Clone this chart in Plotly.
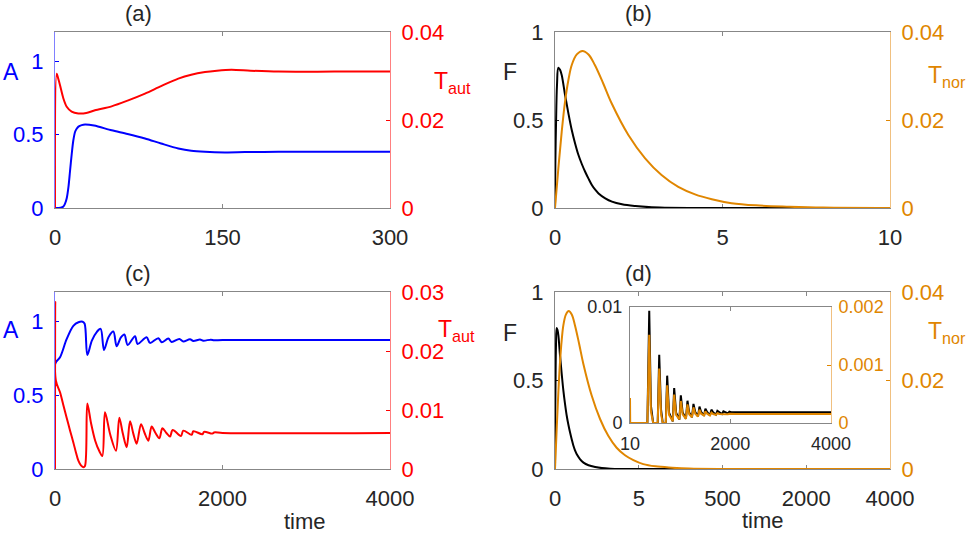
#!/usr/bin/env python3
"""Four-panel time courses: A/T_aut (a, c) and F/T_nor (b, d) with an inset in (d)."""
import plotly.graph_objects as go

W, H = 972, 533
FONT = "Liberation Sans, Arial, sans-serif"
BLUE, RED, BLACK, ORANGE = "#0000ff", "#ff0000", "#000000", "#e08600"
GRAY = "#878787"
TXT = "#262626"

# ---- (a) short run, time 0..300 ----
ta_A = [0, 5, 7.5, 9, 10.5, 12, 13.4, 15, 16.4, 18, 19.4, 21, 23.9, 26.9, 35, 50.7, 65,
        80.6, 95, 110.4, 122, 134.3, 152.2, 170, 200, 250, 300]
A_a = [0, 0.002, 0.01, 0.03, 0.066, 0.14, 0.247, 0.37, 0.46, 0.52, 0.54, 0.555, 0.565, 0.569,
       0.562, 0.53, 0.505, 0.474, 0.44, 0.406, 0.39, 0.383, 0.379, 0.381, 0.383, 0.383, 0.383]
ta_T = [0, 1.5, 3, 4.5, 7.5, 10.5, 14.9, 20.9, 28, 35.8, 50.7, 65, 80.6, 95, 110.4, 122,
        134.3, 145, 158, 175, 200, 250, 300]
Taut_a = [0, 0.0305, 0.0293, 0.0279, 0.0249, 0.0230, 0.0219, 0.0215, 0.0216, 0.0222, 0.0231,
          0.0244, 0.0260, 0.0277, 0.0294, 0.0303, 0.0309, 0.0312, 0.0314, 0.0312, 0.0310,
          0.0310, 0.0310]

# ---- (b) time 0..10 ----
tb_F = [0, 0.01, 0.03, 0.06, 0.1, 0.15, 0.2, 0.3, 0.4, 0.5, 0.6, 0.7, 0.8, 0.9, 1.0, 1.1,
        1.2, 1.3, 1.5, 1.7, 2.0, 2.4, 2.8, 3.3, 4, 5, 10]
F_b = [0, 0.25, 0.47, 0.7, 0.797, 0.785, 0.756, 0.642, 0.538, 0.443, 0.367, 0.301, 0.250,
       0.206, 0.167, 0.131, 0.104, 0.083, 0.055, 0.036, 0.021, 0.011, 0.005, 0.002, 0.0005,
       0, 0]
tb_T = [0, 0.1, 0.2, 0.3, 0.4, 0.5, 0.65, 0.82, 1.0, 1.19, 1.44, 1.69, 2.19, 2.69, 3.18, 3.68,
        4.18, 4.68, 5.27, 6, 7, 8, 10]
Tnor_b = [0, 0.009, 0.0173, 0.0242, 0.0291, 0.0325, 0.0349, 0.0357, 0.0349, 0.0325, 0.0283,
          0.0238, 0.0166, 0.0113, 0.0075, 0.0048, 0.0031, 0.0020, 0.0011, 0.0006, 0.0003,
          0.0001, 0]

# ---- (c) long run, time 0..4000 ----
tc_A = [0, 3, 60, 139, 219, 280, 330, 354, 386, 440, 500, 545, 585, 640, 697, 736, 785, 828,
        868, 955, 987, 1094, 1134, 1234, 1274, 1353, 1393, 1485, 1532, 1612, 1652, 1731, 1771,
        1860, 1900, 2000, 4000]
A_c = [0, 0.714, 0.757, 0.88, 0.97, 0.995, 0.998, 0.985, 0.773, 0.87, 0.93, 0.950, 0.807,
       0.895, 0.932, 0.832, 0.89, 0.912, 0.841, 0.900, 0.848, 0.893, 0.855, 0.887, 0.859,
       0.884, 0.861, 0.882, 0.865, 0.880, 0.868, 0.878, 0.870, 0.877, 0.873, 0.875, 0.875]
tc_T = [0, 3, 10, 60, 100, 139, 180, 219, 250, 279, 310, 338, 358, 386, 430, 480, 530, 565,
        597, 660, 728, 768, 810, 856, 896, 935, 975, 1027, 1070, 1114, 1154, 1200, 1246, 1282,
        1330, 1373, 1405, 1504, 1532, 1632, 1652, 1760, 1780, 1880, 1900, 2000, 4000]
Taut_c = [0, 0.0283, 0.0150, 0.0130, 0.0108, 0.0087, 0.0065, 0.0045, 0.0028, 0.0014, 0.0006,
          0.0003, 0.0005, 0.0111, 0.0078, 0.0048, 0.0030, 0.0022, 0.0096, 0.0058, 0.0031,
          0.0087, 0.0060, 0.0037, 0.0081, 0.0060, 0.0043, 0.0076, 0.0061, 0.0048, 0.0072,
          0.0061, 0.0052, 0.0069, 0.0061, 0.0055, 0.0066, 0.0056, 0.0065, 0.0058, 0.0064,
          0.0059, 0.0063, 0.0060, 0.0062, 0.0061, 0.0061]

# ---- (d) same short-time curves on a stretched axis, plus the long-time inset ----
td_tail = [20]
d_xticks = [0, 5, 10, 15, 20]
d_xlabels = ["0", "5", "500", "2000", "4000"]
ti_F = [10, 355, 392, 425, 470, 560, 590, 625, 660, 720, 748, 785, 860, 887, 925, 990, 1019,
        1055, 1120, 1151, 1185, 1240, 1270, 1305, 1360, 1389, 1422, 1480, 1507, 1540, 1597,
        1626, 1660, 1716, 1745, 1780, 1835, 1864, 1900, 1955, 1983, 2020, 2100, 4000]
F_in = [0, 0, 0.00968, 0.0015, 0, 0, 0.00589, 0.0012, 0, 0, 0.00408, 0.0009, 0.00014, 0.00302,
        0.0009, 0.00029, 0.00238, 0.0009, 0.00037, 0.00192, 0.0009, 0.00049, 0.00164, 0.00095,
        0.00057, 0.00141, 0.00095, 0.00063, 0.00123, 0.00095, 0.00066, 0.00115, 0.00092,
        0.00072, 0.00105, 0.00092, 0.00078, 0.00100, 0.00092, 0.00082, 0.00097, 0.00092,
        0.00092, 0.00092]
ti_T = [10, 14] + ti_F[1:]
T_in = [0.00043, 0, 0, 0.00152, 0.0002, 0, 0, 0.00094, 0.00016, 0, 0, 0.00065, 0.00014,
        0.00003, 0.00049, 0.00014, 0.00006, 0.00038, 0.00015, 0.00007, 0.00032, 0.00015,
        0.0001, 0.00027, 0.00016, 0.00011, 0.00023, 0.00016, 0.00013, 0.0002, 0.00016,
        0.00013, 0.00018, 0.000155, 0.00014, 0.00017, 0.000155, 0.00015, 0.00016, 0.000155,
        0.00015, 0.000158, 0.000155, 0.000155, 0.000155]


def xdom(x0, x1):
    return [x0 / W, x1 / W]


def ydom(top, bot):
    return [1 - bot / H, 1 - top / H]


def line(x, y, color, xa, ya, smoothing=0.8):
    shape = "spline" if smoothing else "linear"
    ln = dict(color=color, width=2, shape=shape)
    if smoothing:
        ln["smoothing"] = smoothing
    return go.Scatter(x=x, y=y, mode="lines", xaxis=xa, yaxis=ya, showlegend=False,
                      hoverinfo="skip", line=ln)


def xax(dom, anchor, rng, vals, text=None, size=22):
    return dict(domain=dom, anchor=anchor, range=rng, tickvals=vals,
                ticktext=text or [str(v) for v in vals], showgrid=False, zeroline=False,
                showline=True, linecolor=GRAY, linewidth=1, mirror="ticks", ticks="inside",
                ticklen=4, tickcolor=GRAY, tickfont=dict(size=size, color=TXT, family=FONT),
                ticklabelstandoff=10 if size > 20 else 4, automargin=False,
                layer="below traces")


def yax(dom, anchor, rng, vals, text, color, linecol, side="left", over=None, size=22):
    d = dict(anchor=anchor, range=rng, tickvals=vals, ticktext=text, showgrid=False,
             zeroline=False, showline=True, linecolor=linecol, linewidth=1, ticks="inside",
             ticklen=4, tickcolor=color, side=side, automargin=False, layer="below traces",
             tickfont=dict(size=size, color=color, family=FONT),
             ticklabelstandoff=6 if size > 20 else 3)
    if over:
        d["overlaying"] = over
    else:
        d["domain"] = dom
    return d


fig = go.Figure()
fig.add_trace(line(ta_A, A_a, BLUE, "x", "y"))
fig.add_trace(line(ta_T, Taut_a, RED, "x", "y2"))
fig.add_trace(line(tb_F, F_b, BLACK, "x2", "y3", 1.0))
fig.add_trace(line(tb_T, Tnor_b, ORANGE, "x2", "y4", 1.0))
fig.add_trace(line(tc_A, A_c, BLUE, "x3", "y5", 0.9))
fig.add_trace(line(tc_T, Taut_c, RED, "x3", "y6", 0.9))
fig.add_trace(line(tb_F + td_tail, F_b + [0], BLACK, "x4", "y7", 1.0))
fig.add_trace(line(tb_T + td_tail, Tnor_b + [0], ORANGE, "x4", "y8", 1.0))
fig.add_trace(line(ti_F, F_in, BLACK, "x5", "y9", 0))
fig.add_trace(line(ti_T, T_in, ORANGE, "x5", "y10", 0))

LEFT, RIGHT = (55, 390), (555, 890)
TOP, BOT = (32, 208), (292, 469)
LBLUE, LRED, LORANGE = "#8080ff", "#ff8080", "#f0c080"

fig.update_layout(
    width=W, height=H, margin=dict(l=0, r=0, t=0, b=0), autosize=False,
    paper_bgcolor="white", plot_bgcolor="white", font=dict(family=FONT, color=TXT),
    xaxis=xax(xdom(*LEFT), "y", [0, 300], [0, 150, 300]),
    yaxis=yax(ydom(*TOP), "x", [0, 1.2], [0, 0.5, 1], ["0", "0.5", "1"], BLUE, LBLUE),
    yaxis2=yax(None, "x", [0, 0.04], [0, 0.02, 0.04], ["0", "0.02", "0.04"], RED, LRED,
               side="right", over="y"),
    xaxis2=xax(xdom(*RIGHT), "y3", [0, 10], [0, 5, 10]),
    yaxis3=yax(ydom(*TOP), "x2", [0, 1], [0, 0.5, 1], ["0", "0.5", "1"], TXT, GRAY),
    yaxis4=yax(None, "x2", [0, 0.04], [0, 0.02, 0.04], ["0", "0.02", "0.04"], ORANGE, LORANGE,
               side="right", over="y3"),
    xaxis3=xax(xdom(*LEFT), "y5", [0, 4000], [0, 2000, 4000]),
    yaxis5=yax(ydom(*BOT), "x3", [0, 1.2], [0, 0.5, 1], ["0", "0.5", "1"], BLUE, LBLUE),
    yaxis6=yax(None, "x3", [0, 0.03], [0, 0.01, 0.02, 0.03], ["0", "0.01", "0.02", "0.03"],
               RED, LRED, side="right", over="y5"),
    xaxis4=xax(xdom(*RIGHT), "y7", [0, 20], d_xticks, d_xlabels),
    yaxis7=yax(ydom(*BOT), "x4", [0, 1], [0, 0.5, 1], ["0", "0.5", "1"], TXT, GRAY),
    yaxis8=yax(None, "x4", [0, 0.04], [0, 0.02, 0.04], ["0", "0.02", "0.04"], ORANGE, LORANGE,
               side="right", over="y7"),
    # inset of (d)
    xaxis5=xax(xdom(630, 831), "y9", [10, 4000], [10, 2000, 4000], size=18),
    yaxis9=yax(ydom(307, 423), "x5", [0, 0.01], [0, 0.01], ["0", "0.01"], TXT, GRAY, size=18),
    yaxis10=yax(None, "x5", [0, 0.002], [0, 0.001, 0.002], ["0", "0.001", "0.002"], ORANGE,
                LORANGE, side="right", over="y9", size=18),
)


def note(text, x, y, color=TXT, size=22, xanchor="center"):
    fig.add_annotation(text=text, x=x / W, y=1 - y / H, xref="paper", yref="paper",
                       showarrow=False, xanchor=xanchor, yanchor="middle",
                       font=dict(family=FONT, size=size, color=color))


for lab, x, y in [("(a)", 138, 14), ("(b)", 638, 14), ("(c)", 138, 273), ("(d)", 638, 273)]:
    note(lab, x, y)
note("A", 11, 72, BLUE, 23)
note("A", 11, 330, BLUE, 23)
note("F", 510, 72, TXT, 23)
note("F", 510, 333, TXT, 23)
note("T<sub>aut</sub>", 432, 82, RED, 23, "left")
note("T<sub>aut</sub>", 436, 330, RED, 23, "left")
note("T<sub>nor</sub>", 926, 77, ORANGE, 23, "left")
note("T<sub>nor</sub>", 926, 332, ORANGE, 23, "left")
note("time", 305, 521)
note("time", 763, 520)

# the page's default body margin would push the fixed-size figure off the window edge
fig.write_html("out.html", config={"displayModeBar": False},
               post_script="document.body.style.margin='0';")
